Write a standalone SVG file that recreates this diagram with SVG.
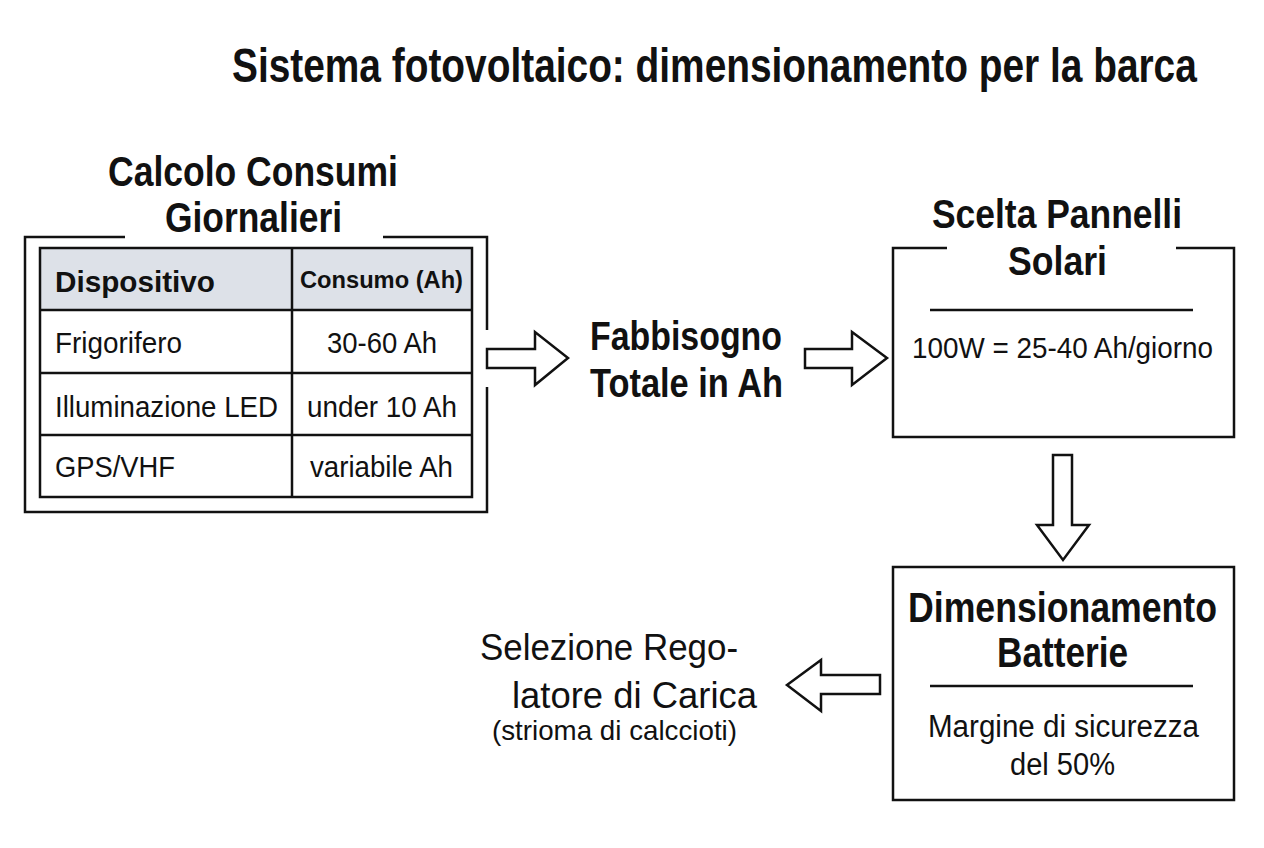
<svg xmlns="http://www.w3.org/2000/svg" width="1264" height="848" viewBox="0 0 1264 848">
<style>
text{font-family:"Liberation Sans",Arial,sans-serif;fill:#111;}
.b{font-weight:bold;}
.frame{fill:none;stroke:#111;stroke-width:2.5;}
.arrow{fill:#fff;stroke:#111;stroke-width:2.5;stroke-linejoin:miter;}
.grid{fill:none;stroke:#111;stroke-width:2.5;}
</style>
<rect x="0" y="0" width="1264" height="848" fill="#fff"/>
<text id="title" class="b" transform="translate(232,82) scale(0.8,1)" x="0" y="0" font-size="49" textLength="1206" lengthAdjust="spacingAndGlyphs">Sistema fotovoltaico: dimensionamento per la barca</text>

<g id="consumi">
<path class="frame" d="M125,237 H25 V512 H487 V387 M383,237 H487 V330"/>
<text class="b" x="108" y="186" font-size="42" textLength="290" lengthAdjust="spacingAndGlyphs">Calcolo Consumi</text>
<text class="b" x="165" y="232" font-size="42" textLength="177" lengthAdjust="spacingAndGlyphs">Giornalieri</text>
<rect x="40" y="248" width="432" height="62" fill="#dde1e8"/>
<rect class="grid" x="40" y="248" width="432" height="249"/>
<path class="grid" d="M292,248 V497 M40,310 H472 M40,373 H472 M40,435 H472"/>
<text class="b" x="55" y="292" font-size="30" textLength="160" lengthAdjust="spacingAndGlyphs">Dispositivo</text>
<text class="b" x="300" y="288" font-size="24" textLength="163" lengthAdjust="spacingAndGlyphs">Consumo (Ah)</text>
<text x="55" y="353" font-size="29" textLength="127" lengthAdjust="spacingAndGlyphs">Frigorifero</text>
<text x="327" y="353" font-size="29" textLength="110" lengthAdjust="spacingAndGlyphs">30-60 Ah</text>
<text x="55" y="417" font-size="29" textLength="223" lengthAdjust="spacingAndGlyphs">Illuminazione LED</text>
<text x="307" y="417" font-size="29" textLength="150" lengthAdjust="spacingAndGlyphs">under 10 Ah</text>
<text x="55" y="477" font-size="29" textLength="120" lengthAdjust="spacingAndGlyphs">GPS/VHF</text>
<text x="310" y="477" font-size="29" textLength="143" lengthAdjust="spacingAndGlyphs">variabile Ah</text>
</g>

<g id="fabbisogno">
<text class="b" x="590" y="350" font-size="40" textLength="192" lengthAdjust="spacingAndGlyphs">Fabbisogno</text>
<text class="b" x="590" y="397" font-size="40" textLength="193" lengthAdjust="spacingAndGlyphs">Totale in Ah</text>
</g>

<g id="pannelli">
<path class="frame" d="M947,248 H893 V437 H1234 V248 H1176"/>
<text class="b" x="932" y="228" font-size="40" textLength="250" lengthAdjust="spacingAndGlyphs">Scelta Pannelli</text>
<text class="b" x="1008" y="275" font-size="40" textLength="99" lengthAdjust="spacingAndGlyphs">Solari</text>
<line x1="930" y1="310" x2="1193" y2="310" stroke="#111" stroke-width="2.5"/>
<text x="912" y="358" font-size="29" textLength="301" lengthAdjust="spacingAndGlyphs">100W = 25-40 Ah/giorno</text>
</g>

<g id="batterie">
<rect class="frame" x="893" y="567" width="341" height="233"/>
<text class="b" transform="translate(908,622) scale(0.85,1)" x="0" y="0" font-size="42" textLength="363.5" lengthAdjust="spacingAndGlyphs">Dimensionamento</text>
<text class="b" x="997" y="667" font-size="42" textLength="131" lengthAdjust="spacingAndGlyphs">Batterie</text>
<line x1="930" y1="686" x2="1193" y2="686" stroke="#111" stroke-width="2.5"/>
<text x="928" y="737" font-size="31" textLength="271" lengthAdjust="spacingAndGlyphs">Margine di sicurezza</text>
<text x="1010" y="775" font-size="31" textLength="105" lengthAdjust="spacingAndGlyphs">del 50%</text>
</g>

<g id="regolatore">
<text x="480" y="660" font-size="37" textLength="258" lengthAdjust="spacingAndGlyphs">Selezione Rego-</text>
<text x="512" y="708" font-size="37" textLength="245" lengthAdjust="spacingAndGlyphs">latore di Carica</text>
<text x="492" y="740" font-size="28" textLength="245" lengthAdjust="spacingAndGlyphs">(strioma di calccioti)</text>
</g>

<g id="connectors">
<polygon class="arrow" points="487,349 535,349 535,332 568,358 535,385 535,368 487,368"/>
<polygon class="arrow" points="805,349 852,349 852,332 887,358 852,385 852,368 805,368"/>
<polygon class="arrow" points="1053,455 1072,455 1072,525 1089,525 1063,560 1037,525 1053,525"/>
<polygon class="arrow" points="880,675 821,675 821,660 787,685 821,711 821,694 880,694"/>
</g>
</svg>
